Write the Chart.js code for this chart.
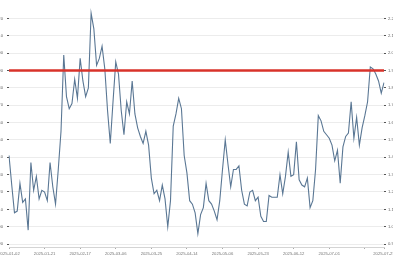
<!DOCTYPE html>
<html lang="en">
<head>
    <meta charset="UTF-8">
    <title>Ratio Chart</title>
    <style>
        html, body { margin: 0; padding: 0; background: #fff; overflow: hidden; }
        .chart-box { position: absolute; left: -20px; top: 0; width: 433px; height: 267px; }
    </style>
</head>
<body>
    <div class="chart-box">
        <canvas id="ratioChart"></canvas>
    </div>

    <script src="https://cdn.jsdelivr.net/npm/chart.js"></script>
    <script>
        // trading days shown on the x axis
        const dates = [
            '2025-01-02', '2025-01-03', '2025-01-06', '2025-01-07', '2025-01-08', '2025-01-09', '2025-01-10',
            '2025-01-13', '2025-01-14', '2025-01-15', '2025-01-16', '2025-01-17', '2025-01-20', '2025-01-21',
            '2025-01-22', '2025-01-23', '2025-01-24', '2025-01-27',
            '2025-02-05', '2025-02-06', '2025-02-07', '2025-02-10', '2025-02-11', '2025-02-12', '2025-02-13',
            '2025-02-14', '2025-02-17', '2025-02-18', '2025-02-19', '2025-02-20', '2025-02-21', '2025-02-24',
            '2025-02-25', '2025-02-26', '2025-02-27', '2025-02-28',
            '2025-03-03', '2025-03-04', '2025-03-05', '2025-03-06', '2025-03-07', '2025-03-10', '2025-03-11',
            '2025-03-12', '2025-03-13', '2025-03-14', '2025-03-17', '2025-03-18', '2025-03-19', '2025-03-20',
            '2025-03-21', '2025-03-24', '2025-03-25', '2025-03-26', '2025-03-27', '2025-03-28', '2025-03-31',
            '2025-04-01', '2025-04-02', '2025-04-03', '2025-04-07', '2025-04-08', '2025-04-09', '2025-04-10',
            '2025-04-11', '2025-04-14', '2025-04-15', '2025-04-16', '2025-04-17', '2025-04-18', '2025-04-21',
            '2025-04-22', '2025-04-23', '2025-04-24', '2025-04-25', '2025-04-28', '2025-04-29', '2025-04-30',
            '2025-05-06', '2025-05-07', '2025-05-08', '2025-05-09', '2025-05-12', '2025-05-13', '2025-05-14',
            '2025-05-15', '2025-05-16', '2025-05-19', '2025-05-20', '2025-05-21', '2025-05-22', '2025-05-23',
            '2025-05-26', '2025-05-27', '2025-05-28', '2025-05-29', '2025-05-30',
            '2025-06-03', '2025-06-04', '2025-06-05', '2025-06-06', '2025-06-09', '2025-06-10', '2025-06-11',
            '2025-06-12', '2025-06-13', '2025-06-16', '2025-06-17', '2025-06-18', '2025-06-19', '2025-06-20',
            '2025-06-23', '2025-06-24', '2025-06-25', '2025-06-26', '2025-06-27', '2025-06-30',
            '2025-07-01', '2025-07-02', '2025-07-03', '2025-07-04', '2025-07-07', '2025-07-08', '2025-07-09',
            '2025-07-10', '2025-07-11', '2025-07-14', '2025-07-15', '2025-07-16', '2025-07-17', '2025-07-18',
            '2025-07-21', '2025-07-22', '2025-07-23', '2025-07-24', '2025-07-25', '2025-07-28', '2025-07-29'
        ];

        // ratio values, one per trading day
        const ratio = [
            1.41, 1.24, 1.08, 1.09, 1.25, 1.14, 1.16, 0.98, 1.37, 1.21,
            1.29, 1.16, 1.21, 1.20, 1.15, 1.37, 1.23, 1.13, 1.33, 1.55,
            1.99, 1.75, 1.68, 1.71, 1.85, 1.74, 1.97, 1.84, 1.75, 1.80,
            2.23, 2.14, 1.93, 1.97, 2.04, 1.91, 1.67, 1.48, 1.72, 1.95,
            1.88, 1.67, 1.53, 1.72, 1.65, 1.84, 1.65, 1.57, 1.52, 1.48,
            1.55, 1.47, 1.28, 1.19, 1.21, 1.15, 1.24, 1.16, 1.00, 1.15,
            1.58, 1.65, 1.74, 1.68, 1.41, 1.31, 1.15, 1.13, 1.08, 0.96,
            1.07, 1.11, 1.25, 1.15, 1.13, 1.09, 1.04, 1.15, 1.33, 1.50,
            1.36, 1.23, 1.33, 1.33, 1.35, 1.21, 1.13, 1.12, 1.20, 1.21,
            1.15, 1.17, 1.06, 1.03, 1.03, 1.18, 1.17, 1.17, 1.17, 1.30,
            1.19, 1.29, 1.43, 1.29, 1.30, 1.49, 1.27, 1.24, 1.23, 1.28,
            1.11, 1.15, 1.33, 1.64, 1.61, 1.55, 1.53, 1.51, 1.47, 1.38,
            1.44, 1.25, 1.46, 1.52, 1.54, 1.72, 1.51, 1.63, 1.47, 1.57,
            1.64, 1.72, 1.92, 1.91, 1.88, 1.84, 1.77, 1.83
        ];

        const threshold = 1.9;      // red reference line
        const yMin = 0.883;
        const yMax = 2.269;
        const yStep = 0.1;
        const labelEvery = 13;      // one date label every 13 trading days

        const tickFont = { family: 'Liberation Sans, Arial, sans-serif', size: 4.2 };

        function fixWidth(w) {
            return function (scale) { scale.width = w; };
        }

        const ctx = document.getElementById('ratioChart').getContext('2d');
        const chart = new Chart(ctx, {
            type: 'line',
            data: {
                labels: dates,
                datasets: [
                    {
                        label: 'Threshold',
                        data: dates.map(() => threshold),
                        borderColor: '#d8322a',
                        borderWidth: 2.4,
                        pointRadius: 0,
                        yAxisID: 'yR',
                        order: 0
                    },
                    {
                        label: 'Ratio',
                        data: ratio,
                        borderColor: '#5a7794',
                        borderWidth: 1.1,
                        pointRadius: 0,
                        tension: 0,
                        yAxisID: 'yR',
                        order: 1
                    }
                ]
            },
            options: {
                responsive: true,
                maintainAspectRatio: false,
                animation: false,
                layout: { padding: { top: 4, bottom: 0, left: 0, right: 0 } },
                plugins: {
                    legend: { display: false },
                    tooltip: { enabled: false }
                },
                scales: {
                    x: {
                        type: 'category',
                        afterFit: function (scale) { scale.height = 20; },
                        border: { display: true, color: '#d4d4d4', width: 1 },
                        grid: {
                            display: true,
                            drawOnChartArea: false,
                            drawTicks: true,
                            tickLength: 2,
                            tickColor: '#aaa'
                        },
                        ticks: {
                            autoSkip: false,
                            maxRotation: 0,
                            padding: 2,
                            color: '#777',
                            font: tickFont,
                            callback: function (val, index) {
                                const last = dates.length - 1;
                                if (index === last) return dates[index];
                                if (index % labelEvery === 0) {
                                    return last - index < labelEvery ? '' : dates[index];
                                }
                                return null;
                            }
                        }
                    },
                    yL: {
                        position: 'left',
                        min: yMin * 100,
                        max: yMax * 100,
                        afterFit: fixWidth(29),
                        border: { display: false },
                        grid: { drawOnChartArea: false, tickLength: 2, tickColor: '#555' },
                        ticks: {
                            stepSize: yStep * 100,
                            includeBounds: false,
                            padding: 4,
                            color: '#666',
                            font: tickFont,
                            callback: (v) => Math.round(v)
                        }
                    },
                    yR: {
                        position: 'right',
                        min: yMin,
                        max: yMax,
                        afterFit: fixWidth(29),
                        border: { display: false },
                        grid: { color: '#ececec', tickLength: 2, tickColor: '#555' },
                        ticks: {
                            stepSize: yStep,
                            includeBounds: false,
                            padding: 2,
                            color: '#666',
                            font: tickFont,
                            callback: (v) => v.toFixed(1)
                        }
                    }
                }
            }
        });
    </script>
</body>
</html>
